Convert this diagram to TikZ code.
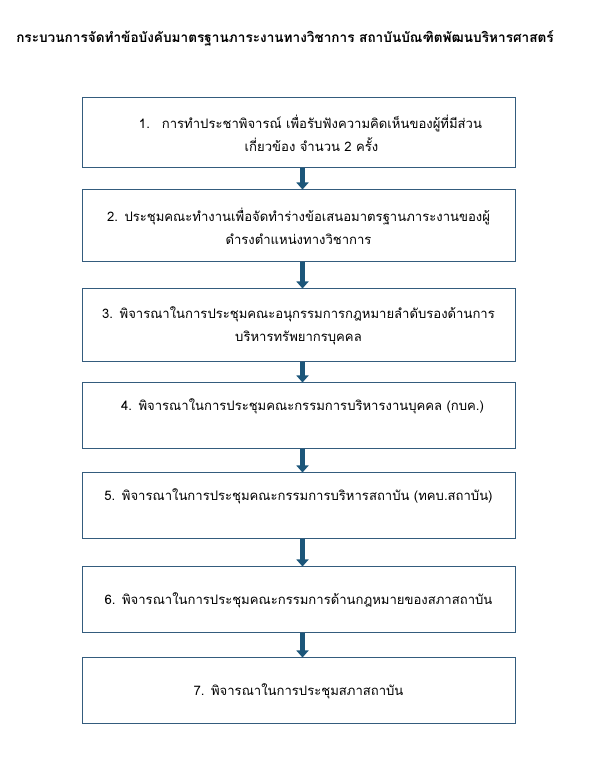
\documentclass[tikz,border=0pt]{standalone}
\usepackage{fontspec}
\newfontfamily\thaifont[Script=Thai]{Loma}
\usetikzlibrary{arrows.meta,positioning}
\definecolor{boxblue}{RGB}{52,92,125}
\definecolor{arrblue}{RGB}{28,86,122}
\begin{document}
\begin{tikzpicture}[x=1pt,y=1pt,
	stepbox/.style={draw=boxblue,line width=1pt,minimum width=433pt,text width=425pt,align=center,font=\thaifont\fontsize{13.1}{23}\selectfont,inner sep=0pt},
	flow/.style={draw=arrblue,line width=5pt,-{Triangle[width=12pt,length=7pt]}}]
	\useasboundingbox (0,0) rectangle (589,766);
	\node[font=\thaifont\bfseries\fontsize{13.6}{15}\selectfont] (title) at (285,728) {กระบวนการจัดทำข้อบังคับมาตรฐานภาระงานทางวิชาการ สถาบันบัณฑิตพัฒนบริหารศาสตร์};
	\node[stepbox,minimum height=70pt] (s1) at (298.5,633) {\hspace*{24pt}1.\hspace{12pt}การทำประชาพิจารณ์ เพื่อรับฟังความคิดเห็นของผู้ที่มีส่วน\\\hspace*{26pt}เกี่ยวข้อง จำนวน 2 ครั้ง};
	\node[stepbox,minimum height=72pt] (s2) at (298.5,540) {2. ประชุมคณะทำงานเพื่อจัดทำร่างข้อเสนอมาตรฐานภาระงานของผู้\\ดำรงตำแหน่งทางวิชาการ};
	\node[stepbox,minimum height=73pt] (s3) at (298.5,440.5) {3. พิจารณาในการประชุมคณะอนุกรรมการกฎหมายลำดับรองด้านการ\\บริหารทรัพยากรบุคคล};
	\node[stepbox,minimum height=66pt] (s4) at (298.5,350) {\hspace*{8pt}4. พิจารณาในการประชุมคณะกรรมการบริหารงานบุคคล (กบค.)\\\mbox{}};
	\node[stepbox,minimum height=66pt] (s5) at (298.5,260) {5. พิจารณาในการประชุมคณะกรรมการบริหารสถาบัน (ทคบ.สถาบัน)\hspace*{10pt}\\\mbox{}};
	\node[stepbox,minimum height=66pt] (s6) at (298.5,166) {6. พิจารณาในการประชุมคณะกรรมการด้านกฎหมายของสภาสถาบัน};
	\node[stepbox,minimum height=66pt] (s7) at (298.5,75) {7. พิจารณาในการประชุมสภาสถาบัน};
	\draw[flow] ([xshift=4pt]s1.south)--([xshift=4pt]s2.north);
	\draw[flow] ([xshift=4pt]s2.south)--([xshift=4pt]s3.north);
	\draw[flow] ([xshift=4pt]s3.south)--([xshift=4pt]s4.north);
	\draw[flow] ([xshift=4pt]s4.south)--([xshift=4pt]s5.north);
	\draw[flow] ([xshift=4pt]s5.south)--([xshift=4pt]s6.north);
	\draw[flow] ([xshift=4pt]s6.south)--([xshift=4pt]s7.north);
\end{tikzpicture}
\end{document}
